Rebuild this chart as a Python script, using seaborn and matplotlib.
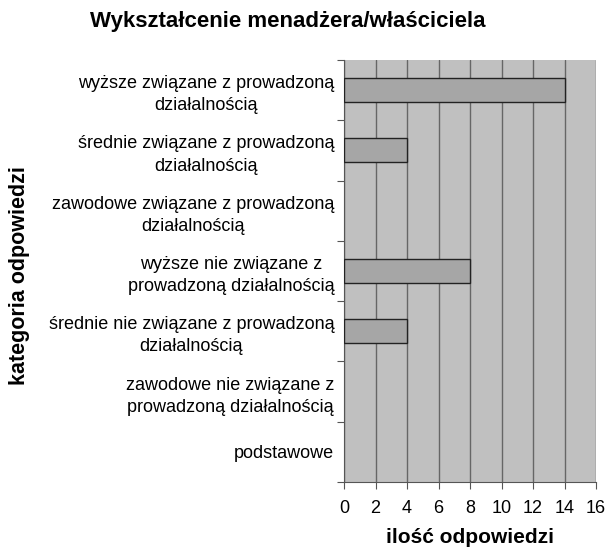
import matplotlib
matplotlib.use("Agg")
import matplotlib.pyplot as plt
import numpy as np
import pandas as pd
import seaborn as sns

kategorie = [
    "wyższe związane z prowadzoną\ndziałalnością",
    "średnie związane z prowadzoną\ndziałalnością",
    "zawodowe związane z prowadzoną\ndziałalnością",
    "wyższe nie związane z\nprowadzoną działalnością",
    "średnie nie związane z prowadzoną\ndziałalnością",
    "zawodowe nie związane z\nprowadzoną działalnością",
    "podstawowe",
]
odpowiedzi = [14, 4, 0, 8, 4, 0, 0]

df = pd.DataFrame({"kategoria": kategorie, "ilosc": odpowiedzi})

sns.set_style("white")
plt.rcParams["font.family"] = ["Liberation Sans", "DejaVu Sans"]
plt.rcParams["text.color"] = "black"
plt.rcParams["xtick.color"] = "#555555"
plt.rcParams["ytick.color"] = "#555555"
plt.rcParams["xtick.labelcolor"] = "black"
plt.rcParams["ytick.labelcolor"] = "black"
plt.rcParams["axes.labelcolor"] = "black"

fig = plt.figure(figsize=(6.08, 5.51), dpi=100)
ax = fig.add_axes([344 / 608, 1 - 482 / 551, 252 / 608, 422 / 551])
ax.set_facecolor("#C0C0C0")

sns.barplot(data=df, x="ilosc", y="kategoria", orient="h", color="#A6A6A6",
            edgecolor="#222222", linewidth=1.0, width=0.4, saturation=1,
            ax=ax)

# puste słupki bez obrysu
for b, v in zip(ax.patches, odpowiedzi):
    b.set_zorder(3)
    if v == 0:
        b.set_linewidth(0)

ax.set_xlim(0, 16)
ax.set_ylim(6.5, -0.5)
ax.set_xticks(range(0, 17, 2))
ax.xaxis.grid(True, color="#666666", linewidth=1.0)
ax.set_axisbelow(True)

ax.set_yticks(np.arange(-0.5, 7, 1), minor=True)
ax.tick_params(axis="y", which="major", left=False, length=0, labelsize=13, pad=7)
ax.tick_params(axis="y", which="minor", left=True, length=5, width=0.8, direction="out")
ax.tick_params(axis="x", bottom=True, length=5, width=0.8, direction="out", labelsize=13, pad=8)
for lbl in ax.get_yticklabels():
    lbl.set_horizontalalignment("right")
    lbl.set_multialignment("center")
    lbl.set_linespacing(1.4)

for s in ["top", "right"]:
    ax.spines[s].set_visible(False)
ax.spines["left"].set_color("#555555")
ax.spines["bottom"].set_color("#555555")

ax.set_xlabel("ilość odpowiedzi", fontsize=15, fontweight="bold", labelpad=8)
ax.set_ylabel("")
fig.text(20 / 608, 0.5, "kategoria odpowiedzi", rotation=90, fontsize=15.5,
         fontweight="bold", ha="center", va="center")
fig.text(288 / 608, 1 - 22 / 551, "Wykształcenie menadżera/właściciela", fontsize=16,
         fontweight="bold", ha="center", va="center")

fig.savefig("out.png", dpi=100)
